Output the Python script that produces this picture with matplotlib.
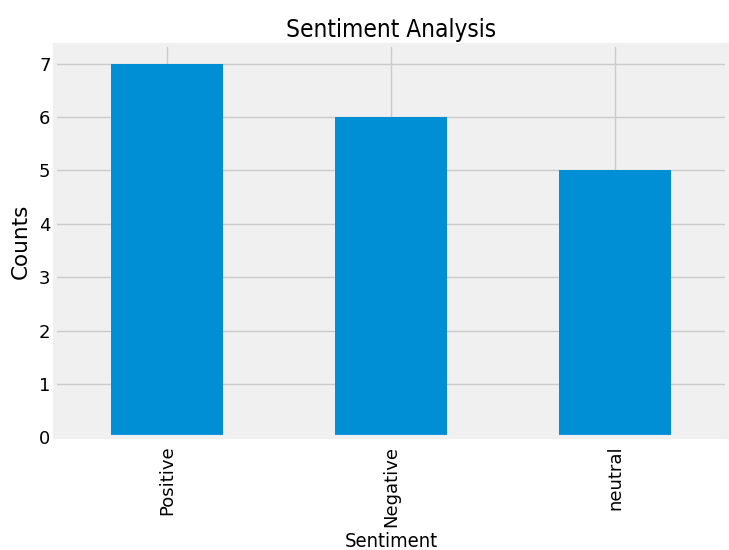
import matplotlib
matplotlib.use('Agg')
import matplotlib.pyplot as plt

# sentiment counts
sentiments = ['Positive', 'Negative', 'neutral']
counts = [7, 6, 5]

plt.style.use('fivethirtyeight')
plt.rcParams['font.family'] = ['DejaVu Sans']

fig = plt.figure(figsize=(7.29, 5.5), dpi=100, facecolor='white')
ax = fig.add_axes([0.076, 0.205, 0.921, 0.713])
ax.set_facecolor('#f0f0f0')

x = range(len(sentiments))
ax.bar(x, counts, width=0.5, color='#008fd5')
ax.set_xlim(-0.5, len(sentiments) - 0.5)
ax.set_xticks(list(x))
ax.set_xticklabels(sentiments, rotation=90, fontsize=13)
ax.tick_params(axis='y', labelsize=13)
ax.tick_params(axis='x', pad=6)
ax.set_xlabel('Sentiment', fontsize=14.5, fontstretch='condensed', labelpad=4)
ax.set_ylabel('Counts', fontsize=15.5, labelpad=6)
ax.set_title('Sentiment Analysis', fontsize=17.5, fontstretch='condensed', pad=6)

fig.savefig('out.png', facecolor='white')
